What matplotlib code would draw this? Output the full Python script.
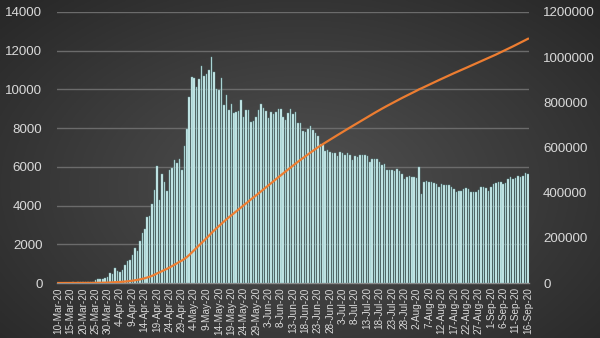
import numpy as np
import pandas as pd
import matplotlib
matplotlib.use("Agg")
import matplotlib.pyplot as plt

# ---- data ----
start_date = "2020-03-10"
daily_cases = [
    3, 8, 6, 17, 14, 4, 30, 21, 33, 52, 54, 53, 61, 71, 57, 163, 182, 196, 228, 270, 302, 501,   # Mar 10-31
    440, 771, 601, 582, 658, 954, 1154, 1175, 1459, 1786, 1667, 2186, 2558, 2774, 3388, 3448,
    4070, 4785, 6060, 4268, 5642, 5236, 4774, 5849, 5966, 6361, 6198, 6411, 5841, 7099,      # Apr
    7933, 9623, 10633, 10581, 10102, 10559, 11231, 10699, 10817, 11012, 11656, 10899, 10028,
    9974, 10598, 9200, 9709, 8926, 9263, 8764, 8849, 8894, 9434, 8599, 8946, 8915, 8338, 8371,
    8572, 8952, 9268,                                                                          # May
    9035, 8863, 8536, 8831, 8726, 8855, 8984, 8985, 8595, 8404, 8779, 8987, 8706, 8835, 8246,
    8248, 7843, 7790, 7972, 8128, 7889, 7728, 7600, 7176, 7113, 6800, 6852, 6791, 6719, 6693,  # Jun
    6556, 6760, 6718, 6632, 6736, 6611, 6368, 6562, 6509, 6635, 6611, 6615, 6537, 6248, 6422,
    6428, 6406, 6234, 6109, 6170, 5842, 5862, 5848, 5811, 5871, 5765, 5635, 5395, 5475, 5509,
    5482,                                                                                      # Jul
    5462, 5427, 6000, 4600, 5241, 5267, 5212, 5241, 5189, 5118, 4945, 5102, 5057, 5061, 5065,
    4969, 4839, 4718, 4748, 4767, 4870, 4921, 4852, 4676, 4696, 4711, 4829, 4941, 4980, 4897,
    4729,                                                                                      # Aug
    4952, 5110, 5185, 5205, 5195, 5099, 5172, 5363, 5475, 5363, 5449, 5509, 5488, 5529, 5670,
    5640,                                                                                      # Sep 1-16
]
base_total = 17
left_ticks = [0, 2000, 4000, 6000, 8000, 10000, 12000, 14000]
right_ticks = [0, 200000, 400000, 600000, 800000, 1000000, 1200000]

dates = pd.date_range(start_date, periods=len(daily_cases), freq="D")
cumulative = base_total + np.cumsum(daily_cases)
x = np.arange(len(daily_cases))

plt.rcParams['font.family'] = ['Liberation Sans', 'DejaVu Sans']

fig = plt.figure(figsize=(6.0, 3.38), dpi=100)

# background radial gradient
bg = fig.add_axes([0, 0, 1, 1], zorder=-10)
yy, xx = np.mgrid[0:1:200j, 0:1:356j]
r = np.sqrt(((xx - 0.5) / 0.75) ** 2 + ((yy - 0.45) / 0.85) ** 2)
val = np.clip(0.32 - 0.18 * r, 0.13, 0.33)
img = np.dstack([val, val, val])
bg.imshow(img, aspect='auto', extent=[0, 1, 0, 1], origin='lower')
bg.axis('off')

ax = fig.add_axes([0.095, 0.1627, 0.787, 0.8018])
ax.patch.set_alpha(0)
ax.bar(x, daily_cases, width=0.62, color='#d3f1f1', edgecolor='#6fa9a9',
       linewidth=0.3, zorder=3)
ax.set_xlim(-0.5, len(daily_cases) - 0.5)
ax.set_ylim(0, 14000)
ax.set_yticks(left_ticks)
ax.set_yticklabels([str(v) for v in left_ticks])
ax.grid(axis='y', color='#6b6b6b', linewidth=1.0, zorder=0)
ax.set_axisbelow(True)
for s in ['top', 'right', 'left']:
    ax.spines[s].set_visible(False)
ax.spines['bottom'].set_color('#8a8a8a')
ax.spines['bottom'].set_linewidth(1.0)
tick_idx = x[::5]
ax.set_xticks(tick_idx)
ax.set_xticklabels([f"{d.day}-{d.strftime('%b-%y')}" for d in dates[tick_idx]],
                   rotation=90, fontsize=7.2, color='#d9d9d9')
ax.tick_params(axis='y', length=0, pad=10.5, labelsize=9.6, labelcolor='#d9d9d9')
ax.tick_params(axis='x', length=0, pad=3)

ax2 = ax.twinx()
ax2.plot(x, cumulative, color='#ED7D31', linewidth=1.6, zorder=5)
ax2.set_ylim(0, 1200000)
ax2.set_yticks(right_ticks)
ax2.set_yticklabels([str(v) for v in right_ticks])
ax2.tick_params(axis='y', length=0, pad=10, labelsize=9.6, labelcolor='#d9d9d9')
for s in ax2.spines.values():
    s.set_visible(False)

fig.savefig("out.png", dpi=100)
